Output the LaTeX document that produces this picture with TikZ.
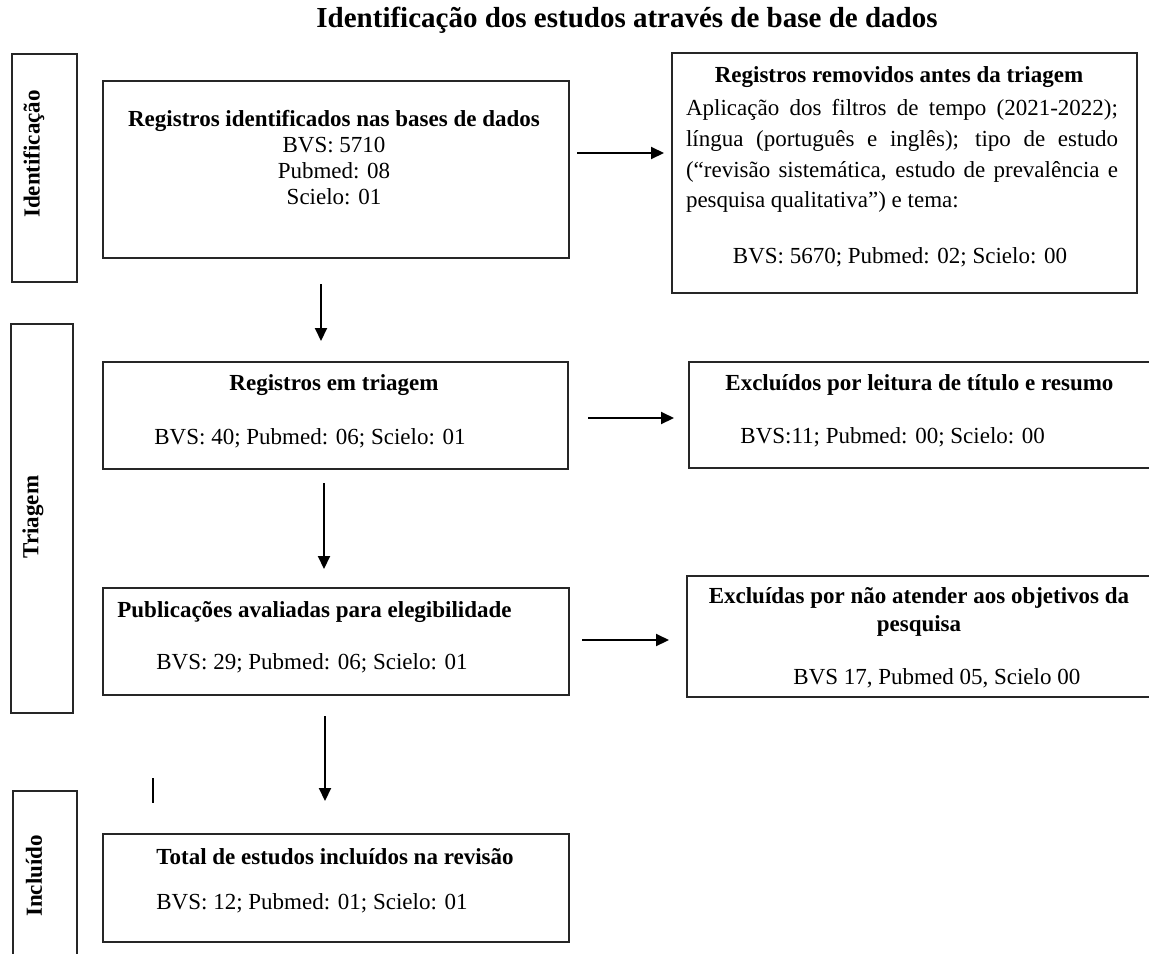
\documentclass[tikz,border=0pt]{standalone}
\usepackage{fontspec}
\setmainfont{Liberation Serif}
\usetikzlibrary{arrows.meta, positioning}
\tikzstyle{caixa}=[draw=black!85,line width=1pt,inner sep=0pt]
\tikzstyle{txt}=[inner sep=0pt,font=\fontsize{11.5}{13}\selectfont]
\tikzstyle{tit}=[inner sep=0pt,font=\fontsize{11.5}{13}\selectfont\bfseries]
\tikzstyle{fase}=[tit,rotate=90]
\tikzstyle{seta}=[line width=1pt,-{Triangle[length=6.5pt,width=6pt]}]

\begin{document}
\begin{tikzpicture}[x=0.5pt,y=-0.5pt]
\useasboundingbox (0,0) rectangle (1149,953);
\node[font=\fontsize{14.5}{17}\selectfont\bfseries] (titulo) at (627,20) {Identificação dos estudos através de base de dados};

% fases laterais
\foreach \n/\cx/\cy/\w/\h/\tx/\ty/\t in {ident/44.5/168/65/228/34/154/Identificação, triag/42/518.5/62/389/33/517/Triagem, incl/45/883/64/184/34/876/Incluído} {
    \node[caixa,minimum width=\w*0.5pt,minimum height=\h*0.5pt] (\n) at (\cx,\cy) {};
    \node[fase] (\n-t) at (\tx,\ty) {\t};}

% caixas
\node[caixa,minimum width=233pt,minimum height=88.5pt] (reg) at (336,169.5) {};
\node[caixa,minimum width=232.5pt,minimum height=120pt] (rem) at (904.5,173) {};
\node[caixa,minimum width=232.5pt,minimum height=53.5pt] (tri) at (335.5,415.5) {};
\node[caixa,minimum width=238pt,minimum height=53pt] (exc1) at (927,415) {};
\node[caixa,minimum width=233pt,minimum height=53.5pt] (pub) at (336,641.5) {};
\node[caixa,minimum width=239pt,minimum height=60.5pt] (exc2) at (926,636.5) {};
\node[caixa,minimum width=233pt,minimum height=54pt] (tot) at (336,888) {};

% textos
\node[txt,align=center] (reg-t) at (334,158) {\textbf{Registros identificados nas bases de dados}\\BVS: 5710\\Pubmed: 08\\Scielo: 01};
\node[tit] (rem-t) at (899,77) {Registros removidos antes da triagem};
\node[txt,text width=216pt,align=justify,font=\fontsize{11.5}{15.4}\selectfont] (rem-p) at (902,156) {Aplicação dos filtros de tempo (2021-2022);\linebreak língua (português e inglês); tipo de estudo\linebreak (“revisão sistemática, estudo de prevalência e\linebreak pesquisa qualitativa”) e tema:};
\node[txt] (rem-n) at (900,257) {BVS: 5670; Pubmed: 02; Scielo: 00};
\node[tit] (tri-t) at (334,385) {Registros em triagem};
\node[txt,anchor=west] (tri-n) at (154,438) {BVS: 40; Pubmed: 06; Scielo: 01};
\node[tit,anchor=west] (exc1-t) at (725,385) {Excluídos por leitura de título e resumo};
\node[txt,anchor=west] (exc1-n) at (740,437) {BVS:11; Pubmed: 00; Scielo: 00};
\node[tit,anchor=west] (pub-t) at (117,612) {Publicações avaliadas para elegibilidade};
\node[txt,anchor=west] (pub-n) at (156,663) {BVS: 29; Pubmed: 06; Scielo: 01};
\node[tit,align=center,font=\fontsize{11.5}{14}\selectfont\bfseries] (exc2-t) at (919,612) {Excluídas por não atender aos objetivos da\\pesquisa};
\node[txt,anchor=west] (exc2-n) at (793,678) {BVS 17, Pubmed 05, Scielo 00};
\node[tit,anchor=west] (tot-t) at (156,857) {Total de estudos incluídos na revisão};
\node[txt,anchor=west] (tot-n) at (156,903) {BVS: 12; Pubmed: 01; Scielo: 01};

% setas
\coordinate (s1) at ([yshift=8.25pt]reg.east);
\draw[seta,shorten <=3.5pt,shorten >=3.5pt] (s1) -- (s1 -| rem.west);
\coordinate (s2) at ([xshift=-7.5pt]reg.south);
\draw[seta,shorten <=12.5pt,shorten >=10pt] (s2) -- (s2 |- tri.north);
\coordinate (s3) at ([yshift=-1.25pt]tri.east);
\draw[seta,shorten <=9.5pt,shorten >=7pt] (s3) -- (s3 -| exc1.west);
\coordinate (s4) at ([xshift=-5.75pt]tri.south);
\draw[seta,shorten <=6.5pt,shorten >=9pt] (s4) -- (s4 |- pub.north);
\coordinate (s5) at ([yshift=0.75pt]pub.east);
\draw[seta,shorten <=6pt,shorten >=8.5pt] (s5) -- (s5 -| exc2.west);
\coordinate (s6) at ([xshift=-5.5pt]pub.south);
\draw[seta,shorten <=10pt,shorten >=16pt] (s6) -- (s6 |- tot.north);

% traco solto
\coordinate (traco-a) at (153,778);
\coordinate (traco-b) at (153,803);
\draw[line width=0.9pt] (traco-a) -- (traco-b);
\end{tikzpicture}
\end{document}
